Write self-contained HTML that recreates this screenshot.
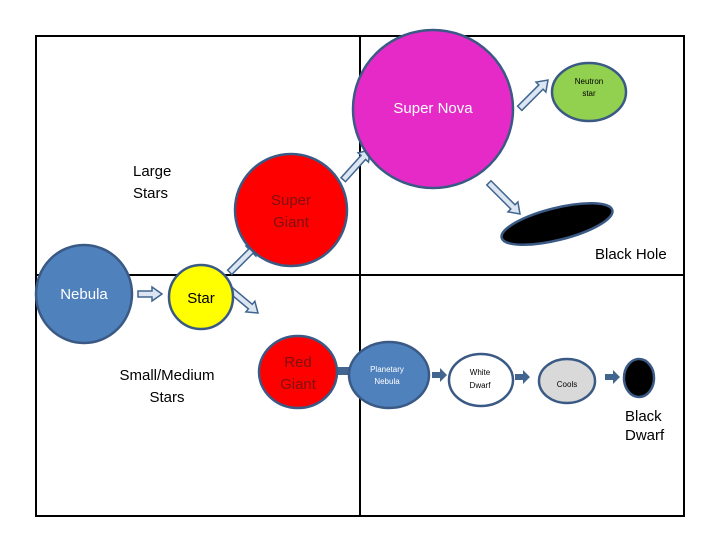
<!DOCTYPE html>
<html><head><style>html,body{margin:0;padding:0;background:#fff}svg{display:block}text{font-family:"Liberation Sans",sans-serif}</style></head><body>
<svg width="720" height="540" viewBox="0 0 720 540" xmlns="http://www.w3.org/2000/svg">
<defs>
<polygon id="ba" points="0,-3 -13,-3 -13,-7 0,0 -13,7 -13,3 0,3" />
</defs>
<rect x="36" y="36" width="648" height="480" fill="#fff" stroke="#000" stroke-width="2"/>
<line x1="360" y1="36" x2="360" y2="516" stroke="#000" stroke-width="2"/>
<line x1="36" y1="275" x2="684" y2="275" stroke="#000" stroke-width="2"/>
<g stroke="#41658f" stroke-width="1.5" fill="#dce6f2">
<polygon points="138,291 152,291 152,287 162,294 152,301 152,297 138,297"/>
<g transform="translate(258,244) rotate(-45)"><polygon points="-40,-3 -10,-3 -10,-7 0,0 -10,7 -10,3 -40,3"/></g>
<g transform="translate(258,313) rotate(40)"><polygon points="-40,-3 -10,-3 -10,-7 0,0 -10,7 -10,3 -40,3"/></g>
<g transform="translate(370,150) rotate(-48)"><polygon points="-40,-3 -10,-3 -10,-7 0,0 -10,7 -10,3 -40,3"/></g>
<g transform="translate(548,80) rotate(-45)"><polygon points="-40,-3 -10,-3 -10,-7 0,0 -10,7 -10,3 -40,3"/></g>
<g transform="translate(520,214) rotate(45)"><polygon points="-44,-3 -10,-3 -10,-7 0,0 -10,7 -10,3 -44,3"/></g>
</g>
<g fill="#41658f">
<rect x="336" y="367" width="16" height="8"/>
<polygon points="432,372 440,372 440,368 447,375 440,382 440,378 432,378"/>
<polygon points="515,374 523,374 523,370 530,377 523,384 523,380 515,380"/>
<polygon points="605,374 613,374 613,370 620,377 613,384 613,380 605,380"/>
</g>
<g stroke="#3a5a85" stroke-width="2.5">
<ellipse cx="84" cy="294" rx="48" ry="49" fill="#4f81bd"/>
<circle cx="201" cy="297" r="32" fill="#ffff00"/>
<circle cx="291" cy="210" r="56" fill="#ff0000"/>
<ellipse cx="298" cy="372" rx="39" ry="36" fill="#ff0000"/>
<ellipse cx="433" cy="109" rx="80" ry="79" fill="#e52ac8"/>
<ellipse cx="589" cy="92" rx="37" ry="29" fill="#92d050"/>
<ellipse cx="557" cy="224" rx="57" ry="16" transform="rotate(-14 557 224)" fill="#000"/>
<ellipse cx="389" cy="375" rx="40" ry="33" fill="#4f81bd"/>
<ellipse cx="481" cy="380" rx="32" ry="26" fill="#fff"/>
<ellipse cx="567" cy="381" rx="28" ry="22" fill="#d9d9d9"/>
<ellipse cx="639" cy="378" rx="15" ry="19" fill="#000"/>
</g>
<g font-size="15" fill="#000">
<text x="133" y="176">Large</text><text x="133" y="198">Stars</text>
<text x="167" y="380" text-anchor="middle">Small/Medium</text><text x="167" y="402" text-anchor="middle">Stars</text>
<text x="595" y="259">Black Hole</text>
<text x="625" y="421">Black</text><text x="625" y="440">Dwarf</text>
</g>
<text x="84" y="299" font-size="15" fill="#fff" text-anchor="middle">Nebula</text>
<text x="201" y="303" font-size="15" fill="#000" text-anchor="middle">Star</text>
<text x="291" y="205" font-size="15" fill="#7f1010" text-anchor="middle">Super</text>
<text x="291" y="227" font-size="15" fill="#7f1010" text-anchor="middle">Giant</text>
<text x="298" y="367" font-size="15" fill="#7f1010" text-anchor="middle">Red</text>
<text x="298" y="389" font-size="15" fill="#7f1010" text-anchor="middle">Giant</text>
<text x="433" y="113" font-size="15" fill="#fff" text-anchor="middle">Super Nova</text>
<text x="589" y="84" font-size="8" text-anchor="middle">Neutron</text>
<text x="589" y="96" font-size="8" text-anchor="middle">star</text>
<text x="387" y="372" font-size="8" fill="#fff" text-anchor="middle">Planetary</text>
<text x="387" y="384" font-size="8" fill="#fff" text-anchor="middle">Nebula</text>
<text x="480" y="375" font-size="8" text-anchor="middle">White</text>
<text x="480" y="388" font-size="8" text-anchor="middle">Dwarf</text>
<text x="567" y="387" font-size="8" text-anchor="middle">Cools</text>
</svg>
</body></html>
